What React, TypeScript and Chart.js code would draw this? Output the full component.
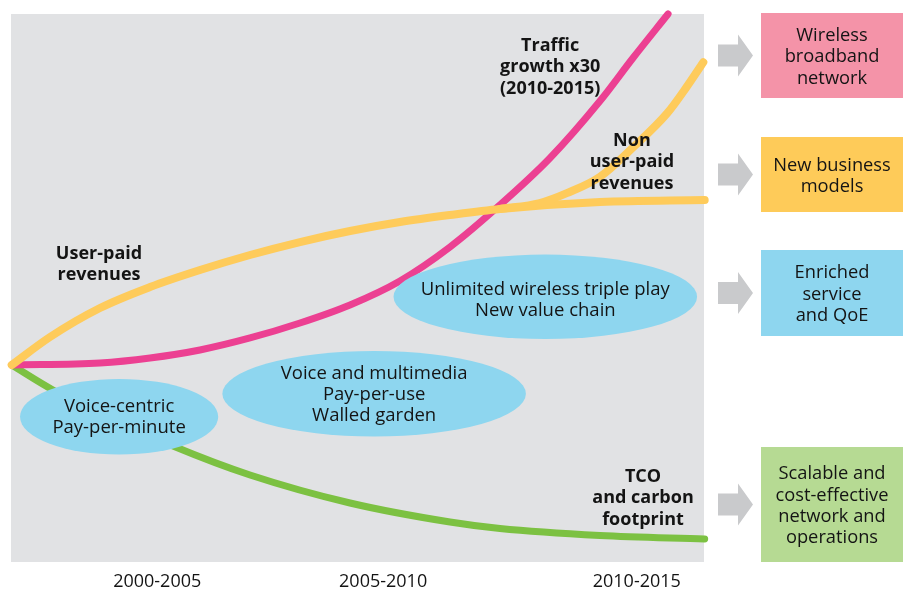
import React, { useEffect, useRef } from "react";
import { Chart, registerables } from "chart.js";

Chart.register(...registerables);

// ---- Data (abstract units: x 0..100 across the timeline, y 0..100 bottom..top) ----
const periodLabels = ["2000-2005", "2005-2010", "2010-2015"];
const periodPositions = [21.1, 53.7, 90.3];

const trafficX = [0.1, 12.84, 20.06, 27.27, 34.49, 41.7, 48.92, 56.13, 63.35, 70.56, 77.78, 84.99, 89.75, 94.81];
const trafficY = [35.95, 36.31, 37.23, 38.69, 40.88, 43.61, 46.9, 51.28, 57.48, 65.15, 73.72, 84.12, 91.97, 100];

const userPaidX = [0.1, 5.63, 12.84, 20.06, 27.27, 34.49, 41.7, 48.92, 56.13, 63.35, 70.56, 84.99, 100.1];
const userPaidY = [35.95, 41.06, 46.35, 50.18, 53.28, 56.02, 58.39, 60.4, 62.04, 63.32, 64.42, 65.69, 66.06];

const nonUserPaidX = [70.56, 76.3, 80.2, 85.0, 89.8, 94.7, 97.5, 99.9];
const nonUserPaidY = [64.42, 65.5, 67.3, 70.3, 75.7, 81.9, 86.7, 91.2];

const tcoX = [0.1, 6.06, 12.84, 23.38, 34.49, 48.92, 63.35, 70.56, 84.99, 100.1];
const tcoY = [35.95, 31.39, 27.19, 21.17, 15.88, 10.77, 7.3, 6.11, 4.84, 4.2];

// Curve annotations (bold)
const curveLabelLines = [
  ["Traffic", "growth x30", "(2010-2015)"],
  ["Non", "user-paid", "revenues"],
  ["User-paid", "revenues"],
  ["TCO", "and carbon", "footprint"],
];
const curveLabelX = [77.8, 89.6, 12.7, 91.2];
const curveLabelY = [90.3, 73.0, 54.3, 11.7];

// Phase ellipses
const phaseLines = [
  ["Voice-centric", "Pay-per-minute"],
  ["Voice and multimedia", "Pay-per-use", "Walled garden"],
  ["Unlimited wireless triple play", "New value chain"],
];
const phaseX = [15.6, 52.4, 77.1];
const phaseY = [26.5, 30.7, 48.4];
const phaseRx = [14.3, 21.9, 21.9];
const phaseRy = [6.9, 7.8, 7.7];

// Outcome boxes
const outcomeLines = [
  ["Wireless", "broadband", "network"],
  ["New business", "models"],
  ["Enriched", "service", "and QoE"],
  ["Scalable and", "cost-effective", "network and", "operations"],
];

// ---- Styles / layout ----
const FONT = "'Open Sans', 'Noto Sans', 'DejaVu Sans', sans-serif";
const TEXT = "#141414";
const BG = "#e1e2e4";
const PINK = "#ec4092";
const YELLOW = "#fecb5b";
const GREEN = "#7cc142";
const BLUE = "#8ed6ef";
const ARROW = "#c9cacc";
const outcomeColors = ["#f493a8", "#fecb59", BLUE, "#b6da93"];
const outcomeLayout = [
  { top: 13, h: 85 },
  { top: 137, h: 75 },
  { top: 250, h: 86 },
  { top: 447, h: 115 },
];
const phaseTextDy = [0, 1, 3];

const zip = (xs: number[], ys: number[]) => xs.map((x, i) => ({ x, y: ys[i] }));

const drawLines = (ctx: CanvasRenderingContext2D, lines: string[], cx: number, cy: number, lh: number) => {
  const n = lines.length;
  lines.forEach((t, i) => {
    ctx.fillText(t, cx, cy + (i - (n - 1) / 2) * lh);
  });
};

const decorPlugin = {
  id: "decor",
  beforeDatasetsDraw(chart: any) {
    const { ctx, chartArea } = chart;
    ctx.save();
    ctx.fillStyle = BG;
    ctx.fillRect(chartArea.left, chartArea.top, chartArea.right - chartArea.left, chartArea.bottom - chartArea.top);
    ctx.restore();
  },
  afterDatasetsDraw(chart: any) {
    const { ctx, chartArea } = chart;
    const xs = chart.scales.x;
    const ys = chart.scales.y;
    ctx.save();
    ctx.textAlign = "center";
    ctx.textBaseline = "middle";

    // ellipses
    phaseLines.forEach((lines, i) => {
      const cx = xs.getPixelForValue(phaseX[i]);
      const cy = ys.getPixelForValue(phaseY[i]);
      const rx = xs.getPixelForValue(phaseX[i] + phaseRx[i]) - cx;
      const ry = cy - ys.getPixelForValue(phaseY[i] + phaseRy[i]);
      ctx.beginPath();
      ctx.ellipse(cx, cy, rx, ry, 0, 0, Math.PI * 2);
      ctx.fillStyle = BLUE;
      ctx.fill();
      ctx.fillStyle = TEXT;
      ctx.font = `18.5px ${FONT}`;
      drawLines(ctx, lines, cx, cy + phaseTextDy[i], 21);
    });

    // curve labels
    ctx.font = `bold 18px ${FONT}`;
    ctx.fillStyle = TEXT;
    curveLabelLines.forEach((lines, i) => {
      drawLines(ctx, lines, xs.getPixelForValue(curveLabelX[i]), ys.getPixelForValue(curveLabelY[i]), 21.5);
    });

    // arrows + boxes
    const boxLeft = chartArea.right + 57;
    const boxW = 142;
    outcomeLines.forEach((lines, i) => {
      const { top, h } = outcomeLayout[i];
      const cy = top + h / 2;
      const a0 = chartArea.right + 14;
      const a1 = chartArea.right + 34;
      const a2 = chartArea.right + 49;
      ctx.beginPath();
      ctx.moveTo(a0, cy - 11);
      ctx.lineTo(a1, cy - 11);
      ctx.lineTo(a1, cy - 21);
      ctx.lineTo(a2, cy);
      ctx.lineTo(a1, cy + 21);
      ctx.lineTo(a1, cy + 11);
      ctx.lineTo(a0, cy + 11);
      ctx.closePath();
      ctx.fillStyle = ARROW;
      ctx.fill();
      ctx.fillStyle = outcomeColors[i];
      ctx.fillRect(boxLeft, top, boxW, h);
      ctx.fillStyle = TEXT;
      ctx.font = `18.3px ${FONT}`;
      drawLines(ctx, lines, boxLeft + boxW / 2, cy + 1.5, 21.3);
    });
    ctx.restore();
  },
};

export default function App() {
  const ref = useRef<HTMLCanvasElement | null>(null);

  useEffect(() => {
    if (!ref.current) return;
    const lineBase = {
      pointRadius: 0,
      pointHoverRadius: 0,
      borderCapStyle: "round" as const,
      borderJoinStyle: "round" as const,
      cubicInterpolationMode: "monotone" as const,
      clip: false as any,
      fill: false,
    };
    const chart = new Chart(ref.current, {
      type: "line",
      data: {
        datasets: [
          { ...lineBase, label: "Non user-paid revenues", data: zip(nonUserPaidX, nonUserPaidY), borderColor: YELLOW, borderWidth: 8, order: 0 },
          { ...lineBase, label: "User-paid revenues", data: zip(userPaidX, userPaidY), borderColor: YELLOW, borderWidth: 8, order: 1 },
          { ...lineBase, label: "Traffic", data: zip(trafficX, trafficY), borderColor: PINK, borderWidth: 7, order: 2 },
          { ...lineBase, label: "TCO and carbon footprint", data: zip(tcoX, tcoY), borderColor: GREEN, borderWidth: 7, order: 3 },
        ],
      },
      options: {
        responsive: false,
        animation: false,
        events: [],
        layout: { padding: { left: 11, top: 14, right: 203, bottom: 0 } },
        plugins: { legend: { display: false }, tooltip: { enabled: false } },
        scales: {
          x: {
            type: "linear",
            min: 0,
            max: 100,
            grid: { display: false, drawTicks: false },
            border: { display: false },
            afterBuildTicks: (scale: any) => {
              scale.ticks = periodPositions.map((v) => ({ value: v }));
            },
            afterFit: (scale: any) => {
              scale.height = 29;
            },
            ticks: {
              autoSkip: false,
              maxRotation: 0,
              padding: 9,
              color: TEXT,
              font: { family: FONT, size: 18 },
              callback: (_v: any, i: number) => periodLabels[i],
            },
          },
          y: { type: "linear", min: 0, max: 100, display: false },
        },
      },
      plugins: [decorPlugin],
    });
    return () => chart.destroy();
  }, []);

  return (
    <div style={{ position: "fixed", left: 0, top: 0, width: 907, height: 591, background: "#fff" }}>
      <canvas ref={ref} width={907} height={591} style={{ display: "block", width: 907, height: 591 }} />
    </div>
  );
}
